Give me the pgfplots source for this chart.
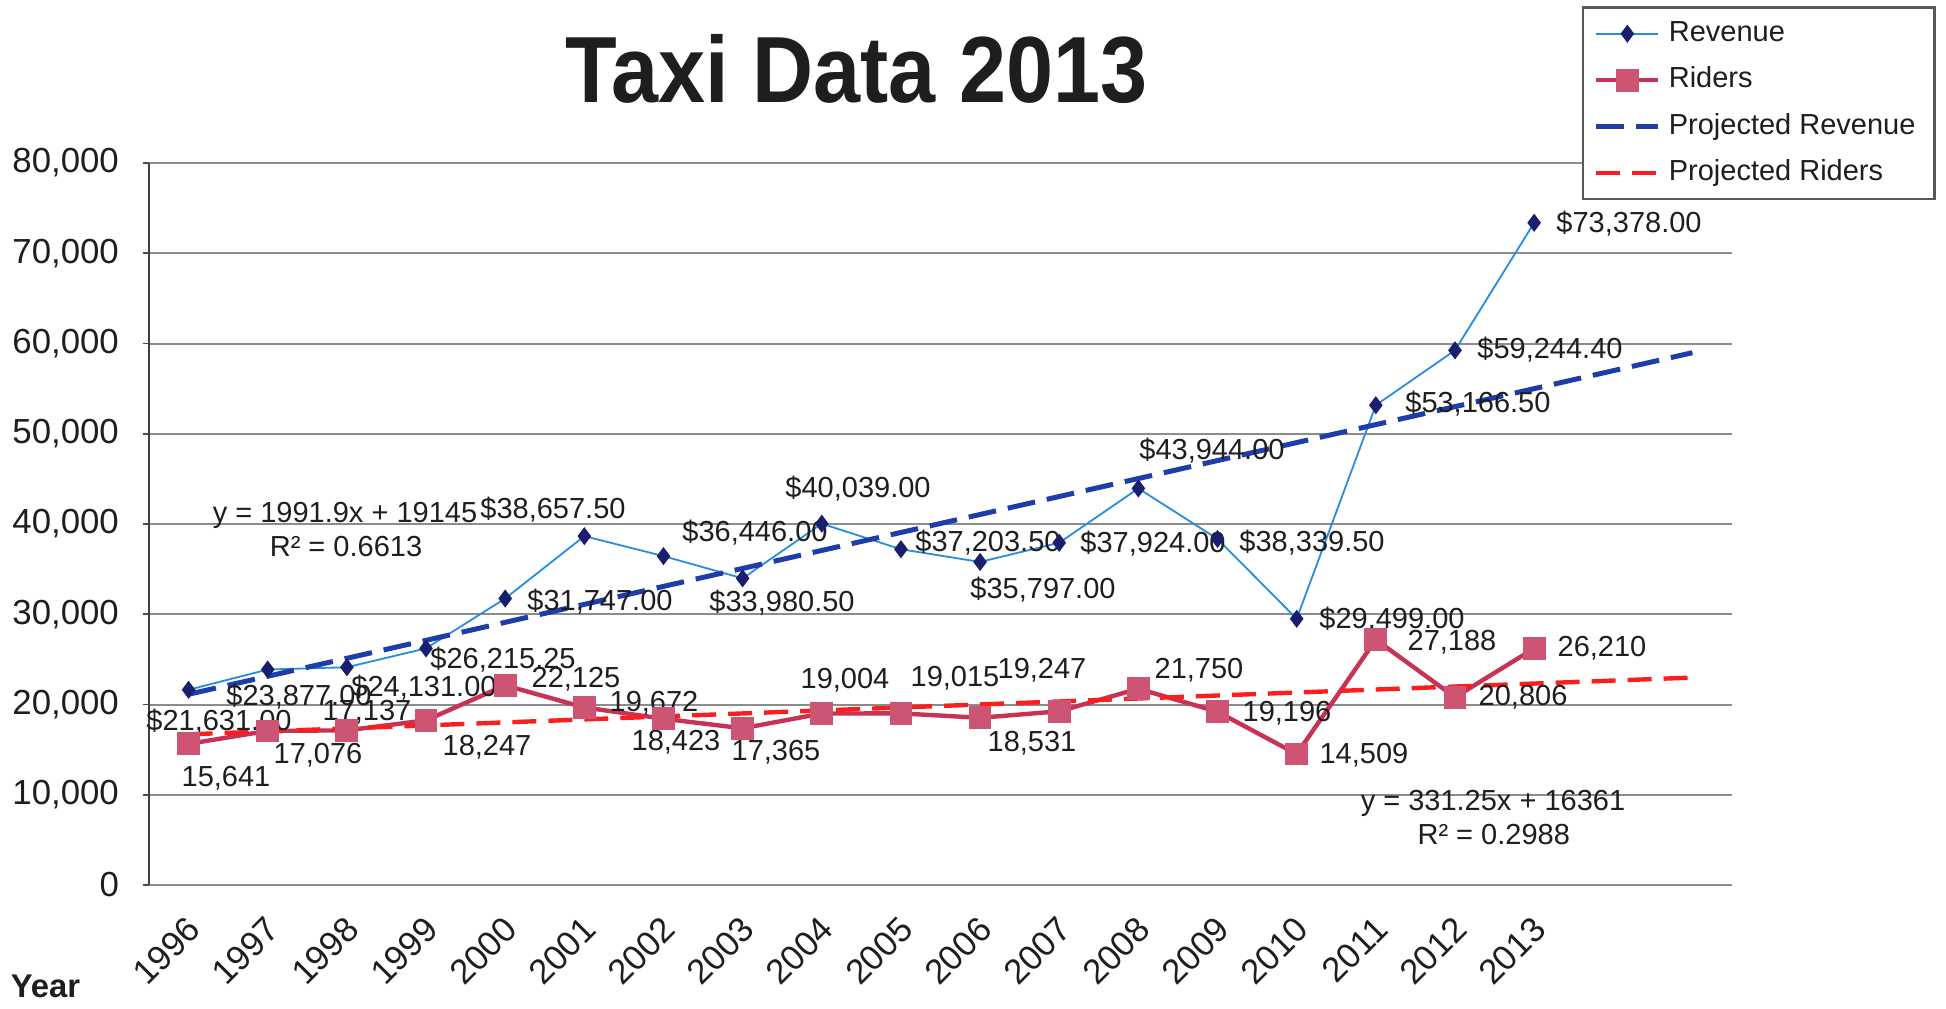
\documentclass[border=0pt]{standalone}
\usepackage{fontspec}
\setmainfont{Liberation Sans}
\usepackage{pgfplots}
\pgfplotsset{compat=1.18}
\definecolor{revline}{RGB}{40,140,225}
\definecolor{revmark}{RGB}{25,30,110}
\definecolor{ridline}{RGB}{200,50,85}
\definecolor{ridmark}{RGB}{205,85,115}
\definecolor{projrev}{RGB}{30,60,170}
\definecolor{projrid}{RGB}{250,30,30}
\definecolor{gridc}{RGB}{140,140,140}
\definecolor{txt}{RGB}{30,30,30}
\newcommand{\lbl}{\fontsize{7.25}{8.7}\selectfont}
\begin{document}
\begin{tikzpicture}
\path[use as bounding box] (-37.25pt,-30.75pt) rectangle (449.25pt,221.25pt);
\begin{axis}[
  name=ax,
  scale only axis,
  width=395.75pt, height=180.5pt,
  xmin=-0.5, xmax=19.5, ymin=0, ymax=80000,
  axis x line*=bottom, axis y line*=left,
  x axis line style={draw=gridc, line width=0.7pt},
  y axis line style={draw=black!75, line width=0.4pt},
  xtick={0,...,17},
  xticklabels={1996,1997,1998,1999,2000,2001,2002,2003,2004,2005,2006,2007,2008,2009,2010,2011,2012,2013},
  minor xtick={-0.5,0.5,...,19.5},
  xtick style={draw=none},
  minor tick style={draw=black!70, line width=0.4pt},
  ytick style={draw=black!70, line width=0.4pt},
  minor tick length=2.5pt,
  major tick length=1.5pt,
  tick align=outside,
  ytick={0,10000,...,80000},
  ymajorgrids,
  grid style={draw=gridc, line width=0.5pt},
  scaled y ticks=false,
  /pgf/number format/assume math mode=true,
  yticklabel style={/pgf/number format/fixed, /pgf/number format/1000 sep={,}, font=\fontsize{8.7}{10.4}\selectfont, text=txt, xshift=-2.5pt},
  xticklabel style={font=\fontsize{8.7}{10.4}\selectfont, text=txt, inner sep=0pt, xshift=1.5pt, yshift=-8pt, rotate=45, anchor=east},
  clip=false,
  legend image code/.code={\draw[mark repeat=2,mark phase=2] plot coordinates {(0pt,0pt)(7.75pt,0pt)(15.5pt,0pt)};},
  legend style={at={(axis description cs:0.905,1.217)}, anchor=north west, draw=black!65, line width=0.6pt,
    font=\lbl, text=txt, inner xsep=2.75pt, inner ysep=1pt, row sep=0.5pt,
    nodes={text height=5.5pt, text depth=1.6pt, inner sep=2pt}},
  legend cell align=left,
]
\addplot[revline, line width=0.45pt, mark=diamond*, mark size=1.9pt, mark options={fill=revmark, draw=revmark, solid}] coordinates {
(0,21631) (1,23877) (2,24131) (3,26215.25) (4,31747) (5,38657.5) (6,36446) (7,33980.5) (8,40039) (9,37203.5) (10,35797) (11,37924) (12,43944) (13,38339.5) (14,29499) (15,53166.5) (16,59244.4) (17,73378)};
\addlegendentry{Revenue}
\addplot[ridline, line width=1.1pt, mark=square*, mark size=2.3pt, mark options={fill=ridmark, draw=ridmark, solid}] coordinates {
(0,15641) (1,17076) (2,17137) (3,18247) (4,22125) (5,19672) (6,18423) (7,17365) (8,19004) (9,19015) (10,18531) (11,19247) (12,21750) (13,19196) (14,14509) (15,27188) (16,20806) (17,26210)};
\addlegendentry{Riders}
\addplot[projrev, line width=1.25pt, dash pattern=on 7pt off 3pt] coordinates {(0,21136.9) (19,58983)};
\addlegendentry{Projected Revenue}
\addplot[projrid, line width=1.1pt, dash pattern=on 6pt off 3pt] coordinates {(0,16692.25) (19,22986)};
\addlegendentry{Projected Riders}

\begin{scope}[every node/.style={font=\lbl, text=txt, inner sep=0pt, anchor=center}]
\node at (axis cs:0.384,18060) {\$21,631.00};
\node at (axis cs:1.395,20830) {\$23,877.00};
\node at (axis cs:2.974,21828) {\$24,131.00};
\node at (axis cs:3.973,24930) {\$26,215.25};
\node at (axis cs:5.198,31356) {\$31,747.00};
\node at (axis cs:4.604,41550) {\$38,657.50};
\node at (axis cs:7.156,39002) {\$36,446.00};
\node at (axis cs:7.498,31246) {\$33,980.50};
\node at (axis cs:8.458,43877) {\$40,039.00};
\node at (axis cs:10.1,37894) {\$37,203.50};
\node at (axis cs:10.795,32686) {\$35,797.00};
\node at (axis cs:12.185,37783) {\$37,924.00};
\node at (axis cs:12.93,48087) {\$43,944.00};
\node at (axis cs:14.194,37894) {\$38,339.50};
\node at (axis cs:15.204,29362) {\$29,499.00};
\node at (axis cs:16.29,53295) {\$53,166.50};
\node at (axis cs:17.2,59278) {\$59,244.40};
\node at (axis cs:18.199,73239) {\$73,378.00};
\node at (axis cs:0.473,11856) {15,641};
\node at (axis cs:1.635,14404) {17,076};
\node at (axis cs:2.254,19168) {17,137};
\node at (axis cs:3.77,15290) {18,247};
\node at (axis cs:4.895,22825) {22,125};
\node at (axis cs:5.88,20166) {19,672};
\node at (axis cs:6.158,15844) {18,423};
\node at (axis cs:7.422,14736) {17,365};
\node at (axis cs:8.293,22714) {19,004};
\node at (axis cs:9.683,22936) {19,015};
\node at (axis cs:10.656,15734) {18,531};
\node at (axis cs:10.782,23822) {19,247};
\node at (axis cs:12.766,23822) {21,750};
\node at (axis cs:13.878,19058) {19,196};
\node at (axis cs:14.85,14404) {14,509};
\node at (axis cs:15.962,26924) {27,188};
\node at (axis cs:16.86,20830) {20,806};
\node at (axis cs:17.857,26260) {26,210};
\node at (axis cs:1.976,40996) {y = 1991.9x + 19145};
\node at (axis cs:1.989,37561) {R² = 0.6613};
\node at (axis cs:16.48,9086) {y = 331.25x + 16361};
\node at (axis cs:16.49,5540) {R² = 0.2988};
\end{scope}
\node[font=\bfseries\fontsize{23.5}{28}\selectfont\addfontfeatures{FakeStretch=0.9}, text=txt, inner sep=0pt, text depth=0pt] at (axis description cs:0.447,1.1316) {Taxi Data 2013};
\node[font=\bfseries\fontsize{8.2}{9.8}\selectfont, text=txt, inner sep=0pt, anchor=west] at (axis description cs:-0.0878,-0.141) {Year};
\end{axis}
\end{tikzpicture}
\end{document}
